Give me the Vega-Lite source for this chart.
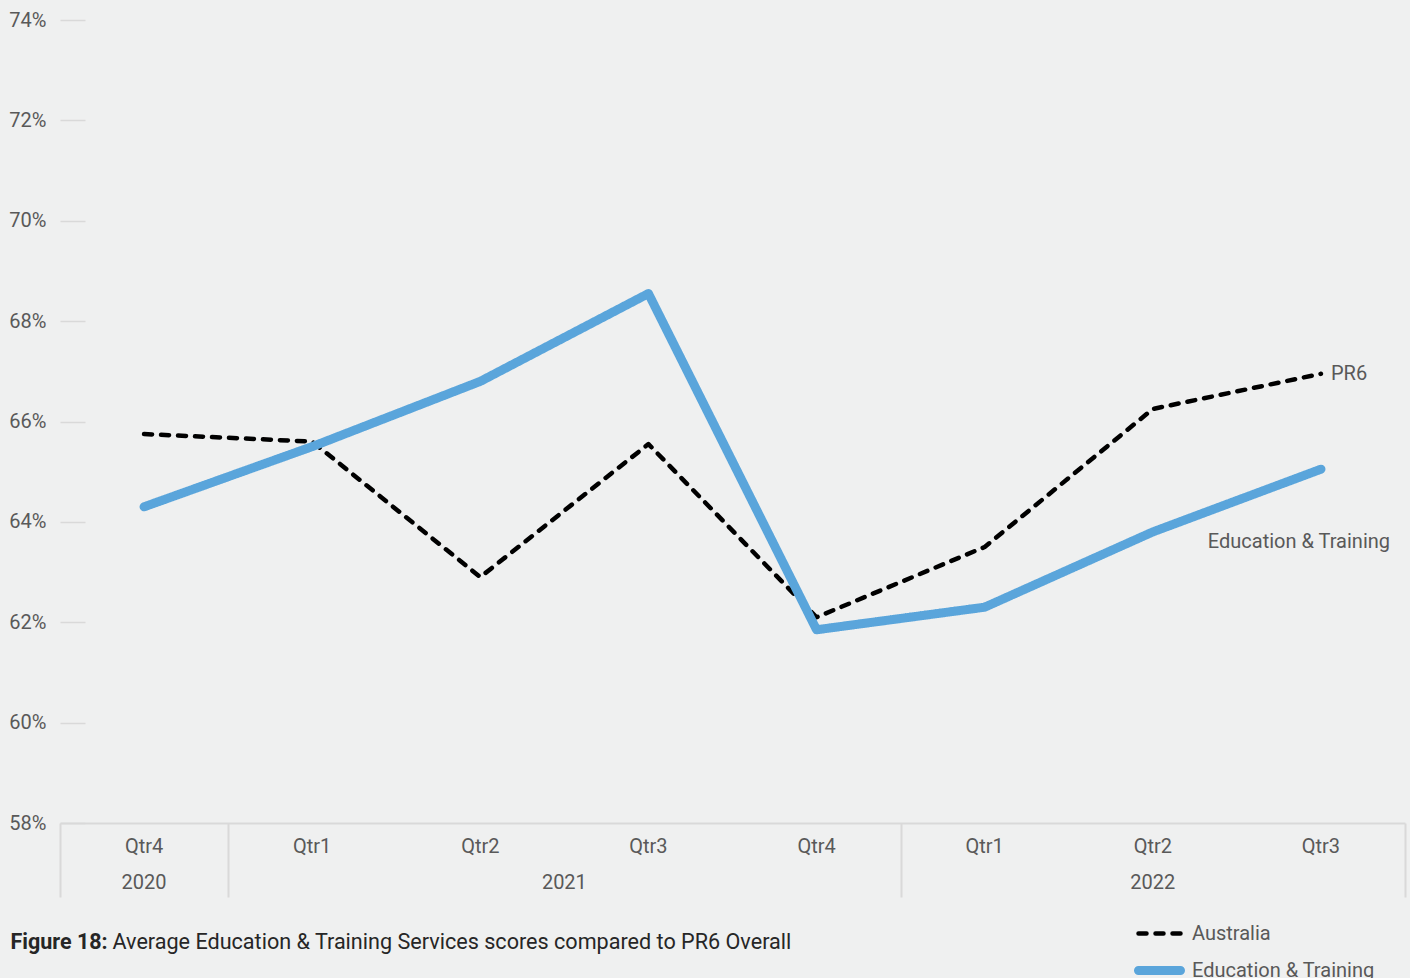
{
  "$schema": "https://vega.github.io/schema/vega-lite/v6.json",
  "width": 1345,
  "height": 803,
  "autosize": "none",
  "padding": {"left": 60, "top": 20, "right": 5, "bottom": 155},
  "background": "#eff0f0",
  "config": {
    "view": {"stroke": null},
    "font": "Roboto",
    "text": {"font": "Roboto"}
  },
  "datasets": {
    "scores": [
      {"q": 0, "series": "Australia", "value": 65.75},
      {"q": 1, "series": "Australia", "value": 65.6},
      {"q": 2, "series": "Australia", "value": 62.9},
      {"q": 3, "series": "Australia", "value": 65.55},
      {"q": 4, "series": "Australia", "value": 62.1},
      {"q": 5, "series": "Australia", "value": 63.5},
      {"q": 6, "series": "Australia", "value": 66.25},
      {"q": 7, "series": "Australia", "value": 66.95},
      {"q": 0, "series": "Education & Training", "value": 64.3},
      {"q": 1, "series": "Education & Training", "value": 65.5},
      {"q": 2, "series": "Education & Training", "value": 66.8},
      {"q": 3, "series": "Education & Training", "value": 68.55},
      {"q": 4, "series": "Education & Training", "value": 61.85},
      {"q": 5, "series": "Education & Training", "value": 62.3},
      {"q": 6, "series": "Education & Training", "value": 63.8},
      {"q": 7, "series": "Education & Training", "value": 65.05}
    ],
    "periods": [
      {"q": 0, "qtr": "Qtr4", "year": "2020"},
      {"q": 1, "qtr": "Qtr1", "year": "2021"},
      {"q": 2, "qtr": "Qtr2", "year": "2021"},
      {"q": 3, "qtr": "Qtr3", "year": "2021"},
      {"q": 4, "qtr": "Qtr4", "year": "2021"},
      {"q": 5, "qtr": "Qtr1", "year": "2022"},
      {"q": 6, "qtr": "Qtr2", "year": "2022"},
      {"q": 7, "qtr": "Qtr3", "year": "2022"}
    ]
  },
  "resolve": {"axis": {"x": "independent", "y": "independent"}},
  "layer": [
    {
      "data": {"name": "scores"},
      "mark": {"type": "line", "strokeCap": "round", "strokeJoin": "round"},
      "encoding": {
        "x": {
          "field": "q", "type": "quantitative",
          "scale": {"domain": [-0.5, 7.5], "nice": false, "zero": false},
          "axis": {
            "values": [-0.5, 0.5, 4.5, 7.5],
            "labels": false,
            "grid": false,
            "domain": true, "domainColor": "#d9d9d9", "domainWidth": 2,
            "ticks": true, "tickSize": 74, "tickColor": "#d9d9d9", "tickWidth": 2,
            "title": "Figure 18:",
            "titleFont": "Roboto",
            "titleFontSize": 21.5,
            "titleFontWeight": "bold",
            "titleColor": "#262626",
            "titleX": -50,
            "titleY": 125,
            "titleAlign": "left",
            "titleAnchor": null,
            "titleBaseline": "alphabetic"
          }
        },
        "y": {
          "field": "value", "type": "quantitative",
          "scale": {"domain": [58, 74], "nice": false, "zero": false},
          "axis": {
            "values": [58, 60, 62, 64, 66, 68, 70, 72, 74],
            "domain": false,
            "grid": false,
            "tickSize": 25, "tickColor": "#d9d9d9", "tickWidth": 1.5,
            "offset": -25,
            "labelPadding": 14,
            "labelExpr": "datum.value + '%'",
            "labelFont": "Roboto",
            "labelFontSize": 20,
            "labelColor": "#595959",
            "title": "Average Education & Training Services scores compared to PR6 Overall",
            "titleFont": "Roboto",
            "titleFontSize": 21.6,
            "titleFontWeight": "normal",
            "titleColor": "#262626",
            "titleAngle": 0,
            "titleX": 27,
            "titleY": 928,
            "titleAlign": "left",
            "titleAnchor": null,
            "titleBaseline": "alphabetic"
          }
        },
        "color": {
          "field": "series", "type": "nominal",
          "scale": {"domain": ["Australia", "Education & Training"], "range": ["#000000", "#5aa5db"]},
          "legend": {
            "title": null,
            "orient": "none",
            "legendX": 1085,
            "legendY": 901,
            "symbolType": "M-2.1,0H2.1",
            "symbolSize": 400,
            "labelFont": "Roboto",
            "labelFontSize": 20,
            "labelColor": "#595959",
            "labelOffset": 18,
            "labelLimit": 400,
            "rowPadding": 8,
            "encode": {"symbols": {"update": {"strokeCap": {"value": "round"}}}}
          }
        },
        "strokeDash": {
          "field": "series", "type": "nominal",
          "scale": {"domain": ["Australia", "Education & Training"], "range": [[8, 9], [1, 0]]}
        },
        "strokeWidth": {
          "field": "series", "type": "nominal",
          "scale": {"domain": ["Australia", "Education & Training"], "range": [4.5, 9]}
        }
      }
    },
    {
      "data": {"name": "scores"},
      "transform": [{"filter": "datum.series == 'Australia' && datum.q == 7"}],
      "mark": {"type": "text", "align": "left", "baseline": "middle", "dx": 10, "fontSize": 20, "font": "Roboto", "color": "#595959"},
      "encoding": {
        "x": {"field": "q", "type": "quantitative", "axis": null},
        "y": {"field": "value", "type": "quantitative", "axis": null},
        "text": {"value": "PR6"}
      }
    },
    {
      "data": {"name": "scores"},
      "transform": [{"filter": "datum.series == 'Education & Training' && datum.q == 7"}],
      "mark": {"type": "text", "align": "center", "baseline": "middle", "dx": -22, "dy": 73, "fontSize": 20, "font": "Roboto", "color": "#595959"},
      "encoding": {
        "x": {"field": "q", "type": "quantitative", "axis": null},
        "y": {"field": "value", "type": "quantitative", "axis": null},
        "text": {"field": "series"}
      }
    },
    {
      "data": {"name": "periods"},
      "mark": {"type": "text", "align": "center", "baseline": "middle", "dy": 24, "fontSize": 20, "font": "Roboto", "color": "#595959"},
      "encoding": {
        "x": {"field": "q", "type": "quantitative", "axis": null},
        "y": {"datum": 58, "type": "quantitative", "axis": null},
        "text": {"field": "qtr"}
      }
    },
    {
      "data": {"name": "periods"},
      "transform": [{"aggregate": [{"op": "mean", "field": "q", "as": "mid"}], "groupby": ["year"]}],
      "mark": {"type": "text", "align": "center", "baseline": "middle", "dy": 60, "fontSize": 20, "font": "Roboto", "color": "#595959"},
      "encoding": {
        "x": {"field": "mid", "type": "quantitative", "axis": null},
        "y": {"datum": 58, "type": "quantitative", "axis": null},
        "text": {"field": "year"}
      }
    }
  ]
}
